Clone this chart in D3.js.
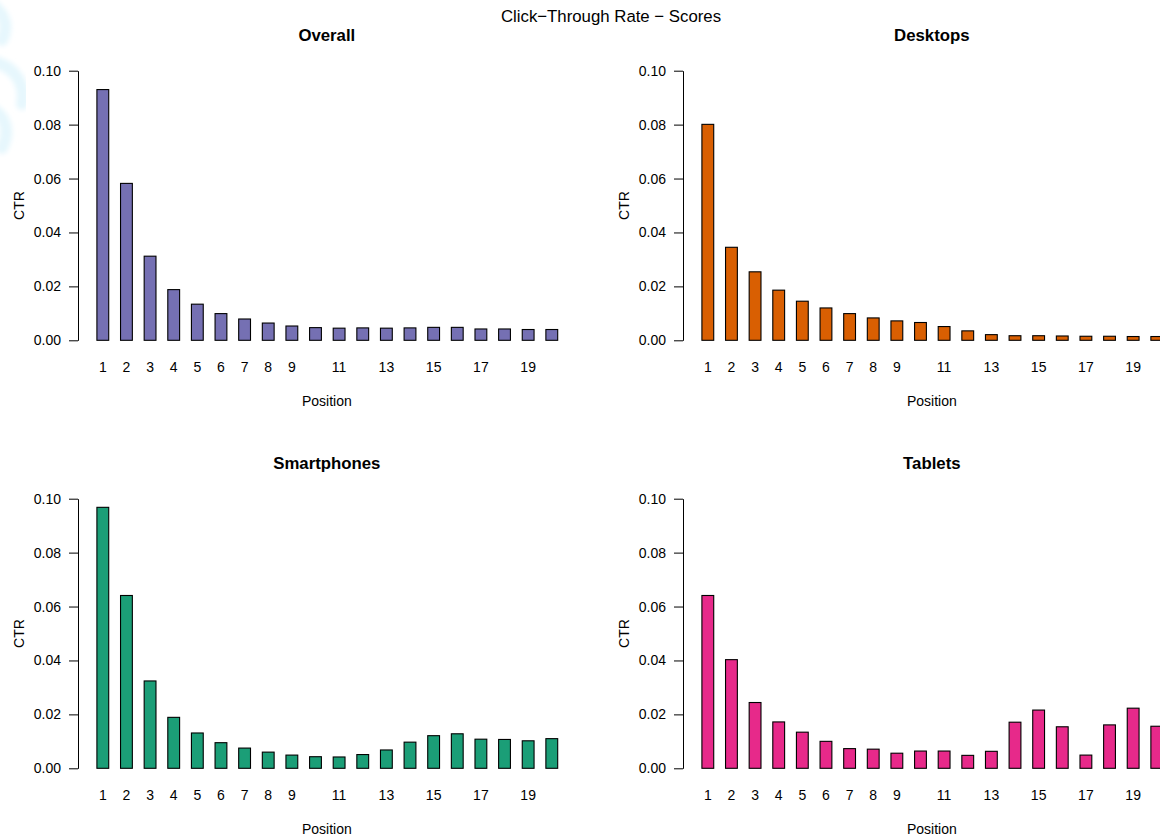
<!DOCTYPE html>
<html>
<head>
<meta charset="utf-8">
<script src="https://cdn.jsdelivr.net/npm/d3@7"></script>
<style>
  html, body { margin: 0; padding: 0; background: #ffffff; }
  svg { display: block; font-family: "Liberation Sans", Arial, Helvetica, sans-serif; }
</style>
</head>
<body>
<svg id="chart" width="1160" height="838"></svg>
<script>
// Click-through rate by search result position, one panel per device group
const positions = d3.range(1, 21);
const positionLabels = ["1","2","3","4","5","6","7","8","9","","11","","13","","15","","17","","19",""];
const yTicks = [0, 0.02, 0.04, 0.06, 0.08, 0.10];

const overallCTR = [0.0930, 0.0582, 0.0312, 0.0188, 0.0134, 0.0099, 0.0079, 0.0064, 0.0053, 0.0047,
                    0.0045, 0.0046, 0.0045, 0.0046, 0.0048, 0.0048, 0.0042, 0.0042, 0.0040, 0.0040];
const desktopCTR = [0.0801, 0.0345, 0.0254, 0.0186, 0.0145, 0.0120, 0.0099, 0.0083, 0.0072, 0.0066,
                    0.0051, 0.0035, 0.0021, 0.0017, 0.0017, 0.0016, 0.0015, 0.0015, 0.0014, 0.0014];
const smartphoneCTR = [0.0968, 0.0641, 0.0324, 0.0189, 0.0131, 0.0095, 0.0075, 0.0060, 0.0049, 0.0043,
                       0.0042, 0.0051, 0.0068, 0.0097, 0.0121, 0.0128, 0.0108, 0.0107, 0.0102, 0.0110];
const tabletCTR = [0.0641, 0.0403, 0.0244, 0.0172, 0.0134, 0.0100, 0.0073, 0.0071, 0.0056, 0.0064,
                   0.0064, 0.0048, 0.0063, 0.0171, 0.0216, 0.0154, 0.0049, 0.0161, 0.0223, 0.0156];

const panelTitles = ["Overall", "Desktops", "Smartphones", "Tablets"];
const panelSeries = [overallCTR, desktopCTR, smartphoneCTR, tabletCTR];
const panelColors = ["#7570b3", "#d95f02", "#1b9e77", "#e7298a"];

const svg = d3.select("#chart");

// soft pale mark along the left edge
const defs = svg.append("defs");
defs.append("filter").attr("id", "soft")
  .append("feGaussianBlur").attr("stdDeviation", 2.5);

svg.append("path")
  .attr("d", "M-6,6 C6,16 8,28 2,40 M-6,62 C14,66 26,84 22,104 M-6,110 C6,118 10,132 2,148")
  .attr("fill", "none")
  .attr("stroke", "#e6f7fd")
  .attr("stroke-width", 12)
  .attr("stroke-linecap", "round")
  .attr("filter", "url(#soft)");

svg.append("text")
  .attr("x", 611).attr("y", 22)
  .attr("text-anchor", "middle")
  .attr("font-size", 16.8)
  .attr("fill", "#000")
  .text("Click\u2212Through Rate \u2212 Scores");

const colAxisX = [78, 683];
const rowZeroY = [340.3, 768.3];
const plotWidth = 497.7;
const yPixelSpan = 269.6; // pixels from 0 to 0.10

panelSeries.forEach((values, i) => {
  const col = i % 2, row = Math.floor(i / 2);
  const ax = colAxisX[col];
  const y0 = rowZeroY[row];

  const y = d3.scaleLinear().domain([0, 0.10]).range([y0, y0 - yPixelSpan]);
  const bandStart = ax + 13;
  const x = d3.scaleBand()
    .domain(positions)
    .range([bandStart, bandStart + 20 * 23.63])
    .paddingInner(0.5)
    .paddingOuter(0.25);

  const g = svg.append("g");

  // bars
  g.selectAll("rect.bar")
    .data(values)
    .join("rect")
    .attr("class", "bar")
    .attr("x", (d, k) => x(positions[k]))
    .attr("y", d => y(d))
    .attr("width", x.bandwidth())
    .attr("height", d => y(0) - y(d))
    .attr("fill", panelColors[i])
    .attr("stroke", "#000")
    .attr("stroke-width", 1.1);

  // y axis
  const yAxis = d3.axisLeft(y)
    .tickValues(yTicks)
    .tickFormat(d3.format(".2f"))
    .tickSize(9)
    .tickSizeOuter(0)
    .tickPadding(8);
  const ya = g.append("g")
    .attr("transform", `translate(${ax},0)`)
    .call(yAxis);
  ya.select(".domain").attr("stroke", "#000").attr("stroke-width", 1);
  ya.selectAll(".tick line").attr("stroke", "#000");
  ya.selectAll(".tick text")
    .attr("font-size", 14)
    .attr("font-family", "Liberation Sans, Arial, sans-serif")
    .attr("fill", "#000");

  // x category labels (no axis line)
  const xAxis = d3.axisBottom(x)
    .tickFormat((d, k) => positionLabels[k])
    .tickSize(0)
    .tickPadding(0);
  const xa = g.append("g")
    .attr("transform", `translate(0,${y0 + 21.5})`)
    .call(xAxis);
  xa.select(".domain").remove();
  xa.selectAll(".tick text")
    .attr("font-size", 14)
    .attr("font-family", "Liberation Sans, Arial, sans-serif")
    .attr("fill", "#000");

  const cx = ax + plotWidth / 2;

  // panel title
  g.append("text")
    .attr("x", cx).attr("y", y0 - 299)
    .attr("text-anchor", "middle")
    .attr("font-size", 16.8)
    .attr("font-weight", "bold")
    .attr("fill", "#000")
    .text(panelTitles[i]);

  // axis titles
  g.append("text")
    .attr("x", cx).attr("y", y0 + 66)
    .attr("text-anchor", "middle")
    .attr("font-size", 14)
    .attr("fill", "#000")
    .text("Position");

  g.append("text")
    .attr("transform", `translate(${ax - 54},${y0 - yPixelSpan / 2}) rotate(-90)`)
    .attr("text-anchor", "middle")
    .attr("font-size", 14)
    .attr("fill", "#000")
    .text("CTR");
});
</script>
</body>
</html>
